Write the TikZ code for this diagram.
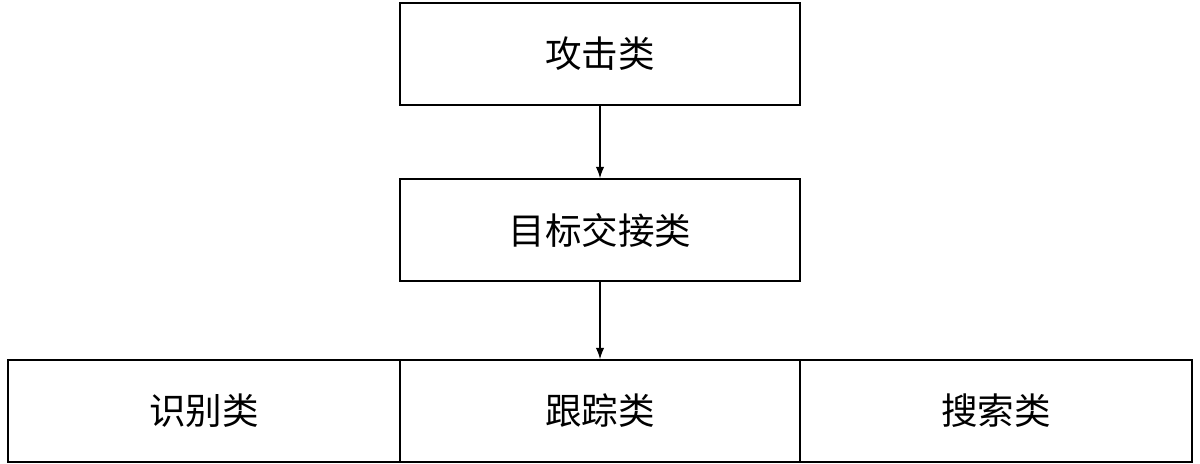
\documentclass[tikz,border=0pt]{standalone}
\usepackage{fontspec}
\newfontfamily\cjk{Noto Sans CJK SC}
\usetikzlibrary{positioning,arrows.meta}
\tikzset{classbox/.style={draw=black, line width=1.2pt, minimum width=10cm, minimum height=2.55cm, inner sep=0pt, font=\cjk\fontsize{26}{30}\selectfont},
  sidebox/.style={classbox, minimum width=9.8cm}}
\begin{document}
\begin{tikzpicture}[x=0.025cm, y=-0.025cm]
\useasboundingbox (0,0) rectangle (1200,464);
\node [classbox] (attack) at (600,54) {攻击类};
\node [classbox] (handover) at (600,230) {目标交接类};
\node [classbox] (track) at (600,411) {跟踪类};
\node [sidebox, left=-1.2pt of track] (identify) {识别类};
\node [sidebox, right=-1.2pt of track] (search) {搜索类};
\draw [-{Latex[length=8pt,width=6pt]}, line width=0.8pt] (attack) -- (handover);
\draw [-{Latex[length=8pt,width=6pt]}, line width=0.8pt] (handover) -- (track);
\end{tikzpicture}
\end{document}
